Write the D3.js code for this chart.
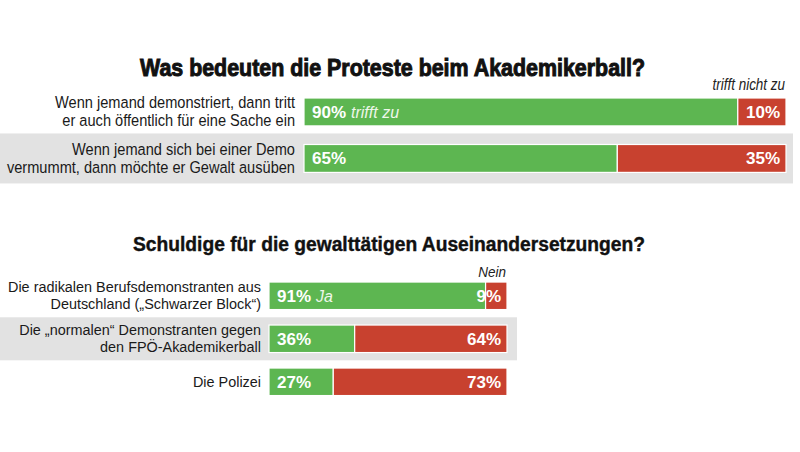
<!DOCTYPE html>
<html><head><meta charset="utf-8">
<script src="https://cdn.jsdelivr.net/npm/d3@7"></script>
<style>
body{margin:0;background:#fff;}
svg{display:block;}
</style></head>
<body>
<svg id="c" width="800" height="452"></svg>
<script>
// ---- data ----
const title1 = "Was bedeuten die Proteste beim Akademikerball?";
const questions1 = [
  ["Wenn jemand demonstriert, dann tritt", "er auch öffentlich für eine Sache ein"],
  ["Wenn jemand sich bei einer Demo", "vermummt, dann möchte er Gewalt ausüben"]
];
const yes1 = [90, 65];
const no1 = [10, 35];
const yesLabel1 = "trifft zu";
const noLabel1 = "trifft nicht zu";

const title2 = "Schuldige für die gewalttätigen Auseinandersetzungen?";
const questions2 = [
  ["Die radikalen Berufsdemonstranten aus", "Deutschland („Schwarzer Block“)"],
  ["Die „normalen“ Demonstranten gegen", "den FPÖ-Akademikerball"],
  ["Die Polizei"]
];
const yes2 = [91, 36, 27];
const no2 = [9, 64, 73];
const yesLabel2 = "Ja";
const noLabel2 = "Nein";

// ---- style ----
const GREEN = "#5db651", RED = "#c8412f", GRAY = "#e2e2e2";
const FONT = "Liberation Sans, Arial, sans-serif";
const svg = d3.select("#c");

function section(cfg){
  const {title, questions, yes, no, yesLabel, noLabel, xRange, yRange, padIn, padOut,
         titleY, titleX, titleW, titleSize, titleStroke, labelX, labelScale, labelSize, lineH,
         bandW, bandH, noLabelY, noScale, noSize} = cfg;
  const idx = questions.map((d,i)=>i);
  const x = d3.scaleLinear().domain([0,100]).range(xRange);
  const y = d3.scaleBand().domain(idx).range(yRange).paddingInner(padIn).paddingOuter(padOut);
  const g = svg.append("g");

  // alternating gray band
  g.selectAll("rect.band").data(idx.filter(i=>i%2===1)).join("rect")
    .attr("x",0).attr("width",bandW)
    .attr("y",i=>y(i)+y.bandwidth()/2-bandH/2).attr("height",bandH)
    .attr("fill",GRAY);

  // title
  g.append("text").attr("x",titleX).attr("y",titleY)
    .attr("font-family",FONT).attr("font-weight","bold").attr("font-size",titleSize)
    .attr("textLength",titleW).attr("lengthAdjust","spacingAndGlyphs")
    .attr("stroke","#111").attr("stroke-width",titleStroke)
    .attr("fill","#111").text(title);

  // no-label header
  g.append("text").attr("transform",`translate(${xRange[1]-1},${noLabelY}) scale(${noScale},1)`)
    .attr("text-anchor","end")
    .attr("font-family",FONT).attr("font-style","italic").attr("font-size",noSize)
    .attr("fill","#222").text(noLabel);

  const rows = g.selectAll("g.row").data(idx).join("g");
  // bars
  rows.append("rect").attr("x",x(0)).attr("y",i=>y(i)).attr("height",y.bandwidth())
    .attr("width",i=>x(yes[i])-x(0)).attr("fill",GREEN).attr("stroke","#fff").attr("stroke-width",1.2);
  rows.append("rect").attr("x",i=>x(yes[i])).attr("y",i=>y(i)).attr("height",y.bandwidth())
    .attr("width",i=>x(100)-x(yes[i])).attr("fill",RED).attr("stroke","#fff").attr("stroke-width",1.2);

  // values
  rows.append("text").attr("x",x(0)+8).attr("y",i=>y(i)+y.bandwidth()/2+6)
    .attr("font-family",FONT).attr("font-weight","bold").attr("font-size",17)
    .attr("fill","#fff")
    .each(function(i){
      const t = d3.select(this);
      t.append("tspan").text(yes[i]+"%");
      if(i===0) t.append("tspan").attr("dx",5).attr("font-weight","normal").attr("font-style","italic")
        .attr("font-size",16).attr("fill","#eef7ea").text(yesLabel);
    });
  rows.append("text").attr("x",x(100)-6).attr("y",i=>y(i)+y.bandwidth()/2+6).attr("text-anchor","end")
    .attr("font-family",FONT).attr("font-weight","bold").attr("font-size",17)
    .attr("fill","#fff").text(i=>no[i]+"%");

  // question labels
  rows.append("g")
    .attr("transform",i=>{
      const lines = questions[i];
      const cy = y(i)+y.bandwidth()/2;
      const y0 = cy - (lines.length-1)*lineH/2 + labelSize*0.32;
      return `translate(${labelX},${y0}) scale(${labelScale},1)`;
    })
    .append("text").attr("text-anchor","end")
    .attr("font-family",FONT).attr("font-size",labelSize).attr("fill","#1a1a1a")
    .each(function(i){
      const t = d3.select(this);
      questions[i].forEach((l,k)=>t.append("tspan").attr("x",0).attr("y",k*lineH).text(l));
    });
}

section({title:title1, questions:questions1, yes:yes1, no:no1, yesLabel:yesLabel1, noLabel:noLabel1,
  xRange:[304,786], yRange:[88.7,181.7], padIn:0.4, padOut:0.2,
  titleX:140, titleY:76, titleW:505, titleSize:24, titleStroke:1,
  labelX:295, labelScale:0.885, labelSize:16.5, lineH:18, bandW:793, bandH:50, noLabelY:90, noScale:0.84, noSize:16});

section({title:title2, questions:questions2, yes:yes2, no:no2, yesLabel:yesLabel2, noLabel:noLabel2,
  xRange:[269,507], yRange:[274.3,403.3], padIn:0.36, padOut:0.18,
  titleX:133, titleY:251, titleW:512, titleSize:20, titleStroke:0.4,
  labelX:261, labelScale:0.93, labelSize:15.5, lineH:17, bandW:517, bandH:43, noLabelY:277, noScale:0.9, noSize:15});
</script>
</body></html>
